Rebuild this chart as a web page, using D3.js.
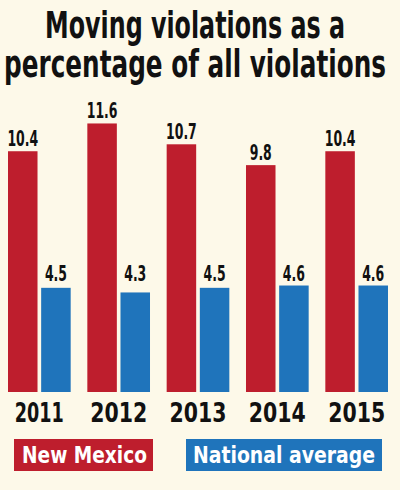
<!DOCTYPE html>
<html><head><meta charset="utf-8">
<script src="https://cdn.jsdelivr.net/npm/d3@7"></script>
<style>
html,body{margin:0;padding:0;background:#fdf9e9;}
svg{display:block;}
</style></head>
<body>
<script>
const years = ["2011","2012","2013","2014","2015"];
const newMexico = [10.4, 11.6, 10.7, 9.8, 10.4];
const nationalAvg = [4.5, 4.3, 4.5, 4.6, 4.6];
const seriesNames = ["New Mexico", "National average"];
const titleLines = ["Moving violations as a", "percentage of all violations"];

const W = 400, H = 490;
const RED = "#be1e2d", BLUE = "#1f74bb", INK = "#111111";
const FONT = "'DejaVu Sans Condensed','DejaVu Sans',sans-serif";

const svg = d3.select("body").append("svg").attr("width", W).attr("height", H);
svg.append("rect").attr("width", W).attr("height", H).attr("fill", "#fdf9e9");

// place a text at (x,y) and squeeze it horizontally to a target width
function fit(sel, x, y, targetW) {
  const w = sel.node().getComputedTextLength();
  const s = w > 0 ? targetW / w : 1;
  sel.attr("x", 0).attr("y", 0).attr("transform", `translate(${x},${y}) scale(${s},1)`);
}

// title
const titleW = [300, 382];
const titleY = [38, 77];
titleLines.forEach((t, i) => {
  const tx = svg.append("text").text(t)
    .attr("text-anchor", "middle")
    .attr("font-family", FONT).attr("font-weight", "bold")
    .attr("font-size", 37).attr("fill", INK);
  fit(tx, 195, titleY[i], titleW[i]);
});

const x0 = d3.scaleBand().domain(years).range([8, 388]).paddingInner(0.21).paddingOuter(0);
const x1 = d3.scaleBand().domain(seriesNames).range([0, x0.bandwidth()]).paddingInner(0.11);
const y = d3.scaleLinear().domain([0, 12]).range([392, 114.2]);

const data = years.map((yr, i) => ({year: yr, vals: [
  {s: seriesNames[0], v: newMexico[i], c: RED},
  {s: seriesNames[1], v: nationalAvg[i], c: BLUE}
]}));

const blueLabelY = y(d3.max(nationalAvg)) - 5;

const g = svg.selectAll("g.grp").data(data).join("g")
  .attr("transform", d => `translate(${x0(d.year)},0)`);

g.selectAll("rect").data(d => d.vals).join("rect")
  .attr("x", d => x1(d.s)).attr("width", x1.bandwidth())
  .attr("y", d => y(d.v)).attr("height", d => y(0) - y(d.v))
  .attr("fill", d => d.c);

g.selectAll("text.val").data(d => d.vals).join("text")
  .attr("class", "val")
  .attr("transform", d => `translate(${x1(d.s) + x1.bandwidth()/2},${d.s === seriesNames[1] ? blueLabelY : y(d.v) - 5}) scale(0.66,1)`)
  .attr("text-anchor", "middle")
  .attr("font-family", FONT).attr("font-weight", "bold")
  .attr("font-size", 21).attr("fill", INK)
  .text(d => d.v.toFixed(1));

// year axis labels
const axis = d3.axisBottom(x0).tickSize(0).tickPadding(0);
const ax = svg.append("g").attr("transform", "translate(0,422)").call(axis);
ax.select(".domain").remove();
ax.selectAll(".tick text")
  .attr("dy", 0)
  .attr("font-family", FONT).attr("font-weight", "bold")
  .attr("font-size", 27).attr("fill", INK)
  .each(function(d) { fit(d3.select(this), 0, 0, d === "2011" ? 49 : 57); });

// legend
const legend = [
  {name: seriesNames[0], c: RED, x: 14, w: 139, tx: 22, tw: 125},
  {name: seriesNames[1], c: BLUE, x: 186, w: 196, tx: 193, tw: 182}
];
legend.forEach(l => {
  svg.append("rect").attr("x", l.x).attr("y", 439).attr("width", l.w).attr("height", 32).attr("fill", l.c);
  const t = svg.append("text").text(l.name)
    .attr("font-family", FONT).attr("font-weight", "bold")
    .attr("font-size", 23).attr("fill", "#fff");
  fit(t, l.tx, 463, l.tw);
});
</script>
</body></html>
